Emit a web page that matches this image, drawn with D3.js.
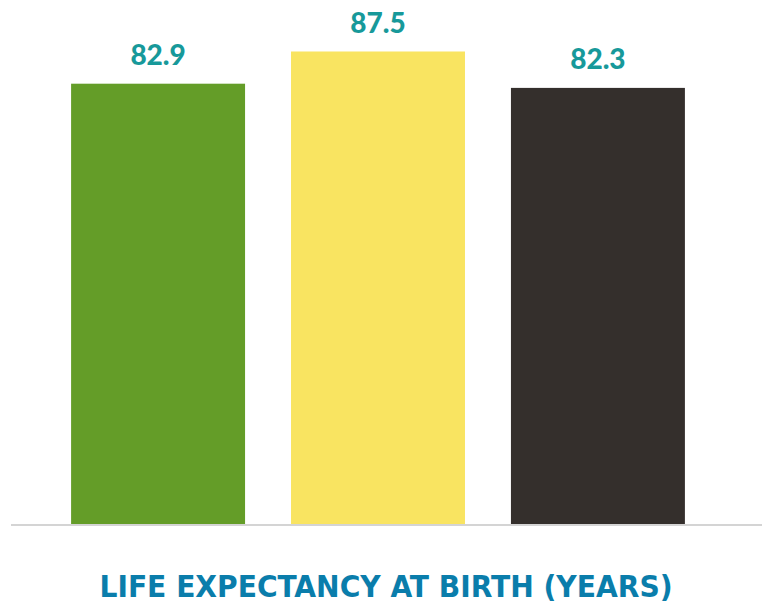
<!DOCTYPE html>
<html>
<head>
<meta charset="utf-8">
<script src="https://cdn.jsdelivr.net/npm/d3@7"></script>
<style>
  body { margin: 0; background: #fff; }
  svg { display: block; }
</style>
</head>
<body>
<div id="chart"></div>
<script>
// chart data
var categories = ["A", "B", "C"];
var values = [82.9, 87.5, 82.3];
var barColors = ["#649d28", "#f9e461", "#342f2c"];
var title = "LIFE EXPECTANCY AT BIRTH (YEARS)";

var w = 762, h = 604;

var svg = d3.select("#chart").append("svg")
    .attr("width", w)
    .attr("height", h);

var x = d3.scaleBand()
    .domain(categories)
    .range([48, 708])
    .paddingInner(0.209)
    .paddingOuter(0.105);

var y = d3.scaleLinear()
    .domain([20, 90])
    .range([524, 34]);

// bars
svg.selectAll(".bar")
    .data(values)
    .enter().append("rect")
    .attr("class", "bar")
    .attr("x", function(d, i) { return x(categories[i]); })
    .attr("y", function(d) { return y(d); })
    .attr("width", x.bandwidth())
    .attr("height", function(d) { return y(20) - y(d); })
    .attr("fill", function(d, i) { return barColors[i]; });

// baseline
svg.append("line")
    .attr("x1", 11).attr("x2", w)
    .attr("y1", y(20) + 1).attr("y2", y(20) + 1)
    .attr("stroke", "#d4d4d4")
    .attr("stroke-width", 2);

// value labels
svg.selectAll(".lbl")
    .data(values)
    .enter().append("text")
    .attr("class", "lbl")
    .attr("x", function(d, i) { return x(categories[i]) + x.bandwidth() / 2; })
    .attr("y", function(d) { return y(d) - 19; })
    .attr("text-anchor", "middle")
    .attr("font-family", "Lato, 'Open Sans', sans-serif")
    .attr("font-weight", 900)
    .attr("font-size", 28)
    .attr("fill", "#17999a")
    .text(function(d) { return d3.format(".1f")(d); });

// title
svg.append("text")
    .attr("x", 386)
    .attr("y", 597)
    .attr("text-anchor", "middle")
    .attr("font-family", "'Liberation Sans Narrow', 'DejaVu Sans Condensed', sans-serif")
    .attr("font-weight", "bold")
    .attr("font-size", 30)
    .attr("textLength", 573)
    .attr("lengthAdjust", "spacingAndGlyphs")
    .attr("fill", "#0a7dab")
    .text(title);
</script>
</body>
</html>
